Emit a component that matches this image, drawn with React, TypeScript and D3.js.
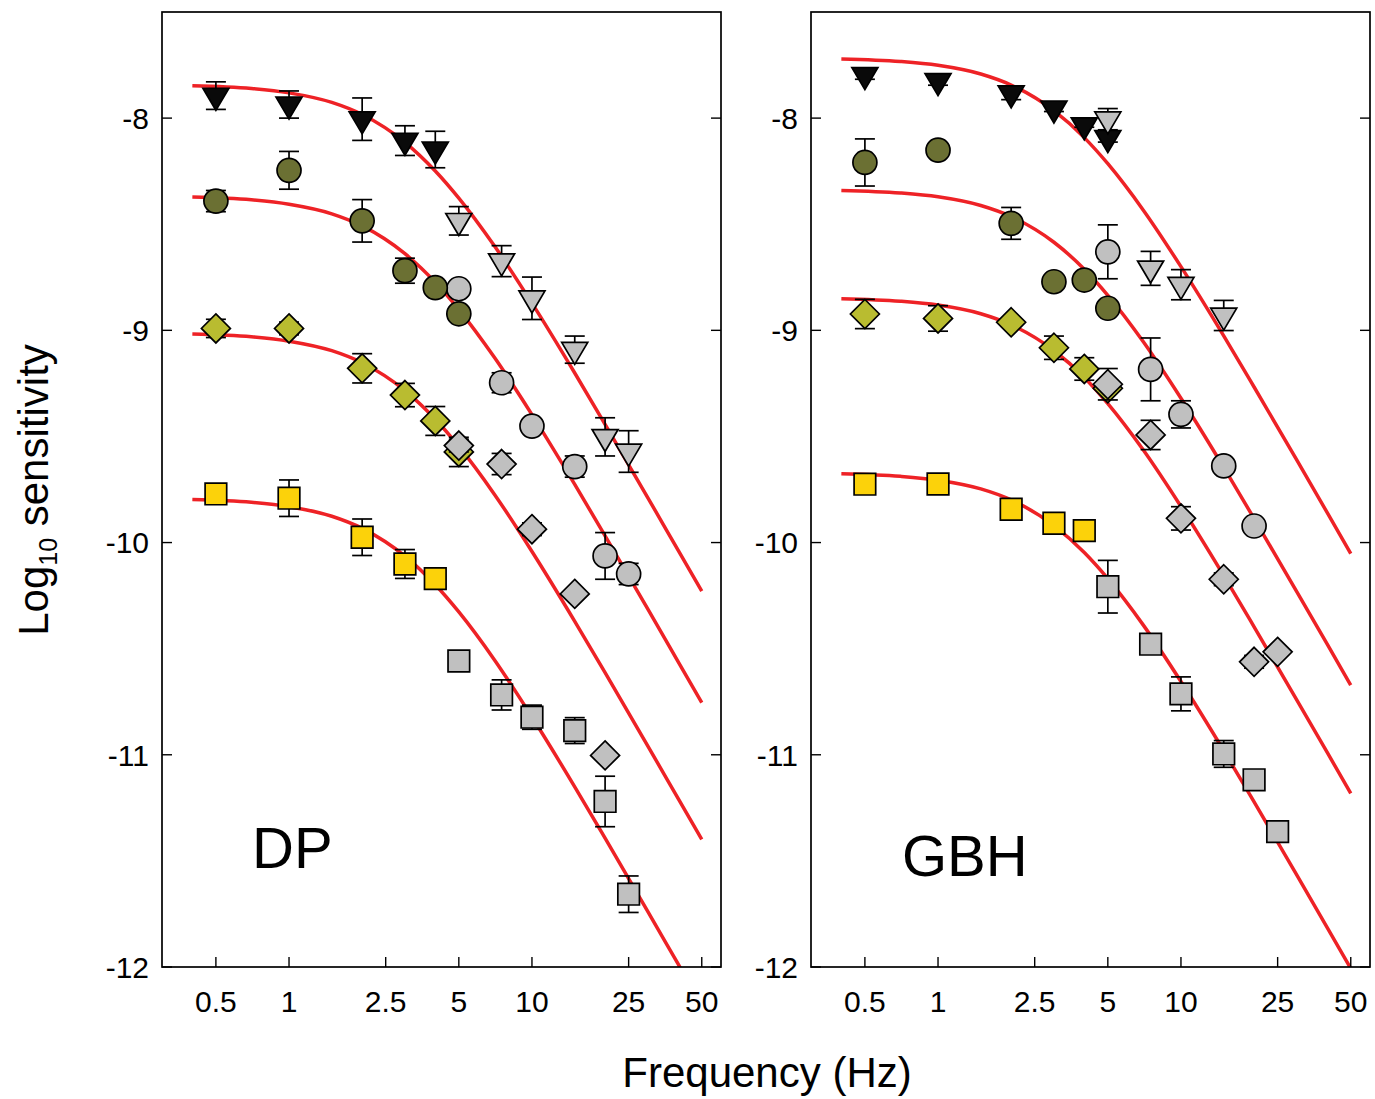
import React from "react";
import * as d3 from "d3";

// ---------- Fitted curves ----------
const curveF = [0.4, 0.7, 1, 1.5, 2, 3, 4, 5, 7, 10, 15, 20, 30, 40, 50];
const dpCurve1 = [-7.847, -7.86, -7.881, -7.926, -7.983, -8.114, -8.249, -8.377, -8.602, -8.872, -9.201, -9.443, -9.789, -10.037, -10.229];
const dpCurve2 = [-8.372, -8.385, -8.406, -8.451, -8.508, -8.639, -8.774, -8.902, -9.127, -9.397, -9.726, -9.968, -10.314, -10.562, -10.754];
const dpCurve3 = [-9.017, -9.03, -9.051, -9.096, -9.153, -9.284, -9.419, -9.547, -9.772, -10.042, -10.371, -10.613, -10.959, -11.207, -11.399];
const dpCurve4 = [-9.797, -9.81, -9.831, -9.876, -9.933, -10.064, -10.199, -10.327, -10.552, -10.822, -11.151, -11.393, -11.739, -11.987, -12.179];
const gbCurve1 = [-7.721, -7.733, -7.751, -7.792, -7.844, -7.965, -8.092, -8.215, -8.434, -8.7, -9.026, -9.267, -9.612, -9.859, -10.052];
const gbCurve2 = [-8.341, -8.353, -8.371, -8.412, -8.464, -8.585, -8.712, -8.835, -9.054, -9.32, -9.646, -9.887, -10.232, -10.479, -10.672];
const gbCurve3 = [-8.851, -8.863, -8.881, -8.922, -8.974, -9.095, -9.222, -9.345, -9.564, -9.83, -10.156, -10.397, -10.742, -10.989, -11.182];
const gbCurve4 = [-9.676, -9.688, -9.706, -9.747, -9.799, -9.92, -10.047, -10.17, -10.389, -10.655, -10.981, -11.222, -11.567, -11.814, -12.007];

// ---------- DP data ----------
const dpBlackTriF = [0.5, 1, 2, 3, 4];
const dpBlackTriY = [-7.894, -7.936, -8.005, -8.106, -8.148];
const dpBlackTriE = [0.065, 0.064, 0.1, 0.07, 0.086];
const dpGrayTriF = [5, 7.5, 10, 15, 20, 25];
const dpGrayTriY = [-8.484, -8.674, -8.849, -9.091, -9.502, -9.571];
const dpGrayTriE = [0.067, 0.073, 0.1, 0.064, 0.09, 0.098];
const dpOliveCircF = [0.5, 1, 2, 3, 4, 5];
const dpOliveCircY = [-8.391, -8.246, -8.484, -8.719, -8.799, -8.922];
const dpOliveCircE = [0.05, 0.089, 0.1, 0.059, 0.03, 0.03];
const dpGrayCircF = [5, 7.5, 10, 15, 20, 25];
const dpGrayCircY = [-8.804, -9.247, -9.451, -9.642, -10.063, -10.148];
const dpGrayCircE = [0.03, 0.047, 0.03, 0.05, 0.11, 0.05];
const dpYellowDiaF = [0.5, 1, 2, 3, 4, 5];
const dpYellowDiaY = [-8.991, -8.991, -9.179, -9.305, -9.427, -9.573];
const dpYellowDiaE = [0.043, 0.03, 0.069, 0.055, 0.068, 0.069];
const dpGrayDiaF = [5, 7.5, 10, 15, 20];
const dpGrayDiaY = [-9.543, -9.63, -9.937, -10.242, -11.003];
const dpGrayDiaE = [0.03, 0.05, 0.03, 0, 0];
const dpYellowSqF = [0.5, 1, 2, 3, 4];
const dpYellowSqY = [-9.771, -9.791, -9.975, -10.101, -10.17];
const dpYellowSqE = [0.035, 0.086, 0.086, 0.068, 0];
const dpGraySqF = [5, 7.5, 10, 15, 20, 25];
const dpGraySqY = [-10.558, -10.718, -10.823, -10.886, -11.22, -11.657];
const dpGraySqE = [0, 0.071, 0.057, 0.061, 0.119, 0.086];

// ---------- GBH data ----------
const gbBlackTriF = [0.5, 1, 2, 3, 4, 5];
const gbBlackTriY = [-7.797, -7.825, -7.883, -7.954, -8.033, -8.093];
const gbBlackTriE = [0.02, 0.02, 0.03, 0.015, 0.01, 0.02];
const gbGrayTriF = [5, 7.5, 10, 15];
const gbGrayTriY = [-8.005, -8.708, -8.785, -8.93];
const gbGrayTriE = [0.05, 0.08, 0.071, 0.071];
const gbOliveCircF = [0.5, 1, 2, 3, 4, 5];
const gbOliveCircY = [-8.209, -8.151, -8.496, -8.771, -8.763, -8.896];
const gbOliveCircE = [0.111, 0, 0.075, 0, 0, 0];
const gbGrayCircF = [5, 7.5, 10, 15, 20];
const gbGrayCircY = [-8.63, -9.184, -9.396, -9.639, -9.922];
const gbGrayCircE = [0.127, 0.148, 0.064, 0, 0.02];
const gbYellowDiaF = [0.5, 1, 2, 3, 4, 5];
const gbYellowDiaY = [-8.923, -8.944, -8.962, -9.082, -9.182, -9.273];
const gbYellowDiaE = [0.069, 0.06, 0, 0.055, 0.053, 0];
const gbGrayDiaF = [5, 7.5, 10, 15, 20, 25];
const gbGrayDiaY = [-9.254, -9.493, -9.886, -10.173, -10.562, -10.515];
const gbGrayDiaE = [0.074, 0.069, 0.055, 0.03, 0.03, 0];
const gbYellowSqF = [0.5, 1, 2, 3, 4];
const gbYellowSqY = [-9.725, -9.724, -9.843, -9.909, -9.944];
const gbYellowSqE = [0, 0, 0, 0, 0];
const gbGraySqF = [5, 7.5, 10, 15, 20, 25];
const gbGraySqY = [-10.208, -10.479, -10.713, -10.996, -11.118, -11.362];
const gbGraySqE = [0.124, 0, 0.08, 0.063, 0.02, 0];

// ---------- ticks ----------
const xTickVals = [0.5, 1, 2.5, 5, 10, 25, 50];
const xTickLabels = ["0.5", "1", "2.5", "5", "10", "25", "50"];
const yTickVals = [-8, -9, -10, -11, -12];
const yTickLabels = ["-8", "-9", "-10", "-11", "-12"];

const COL = {
  black: "#0a0a0a",
  gray: "#c0c0c0",
  olive: "#6b7033",
  lime: "#b9bc30",
  yellow: "#fcd20a",
  red: "#ee2226",
};

const FONT = "'Liberation Sans', Arial, Helvetica, sans-serif";

type Shape = "tri" | "circ" | "dia" | "sq";

function markerPath(shape: Shape, cx: number, cy: number): string {
  if (shape === "circ") {
    const r = 12;
    return `M${cx - r},${cy}a${r},${r} 0 1,0 ${2 * r},0a${r},${r} 0 1,0 ${-2 * r},0Z`;
  }
  if (shape === "sq") {
    const h = 10.8;
    return `M${cx - h},${cy - h}H${cx + h}V${cy + h}H${cx - h}Z`;
  }
  if (shape === "dia") {
    const h = 14.5;
    return `M${cx},${cy - h}L${cx + h},${cy}L${cx},${cy + h}L${cx - h},${cy}Z`;
  }
  const w = 13, hh = 22;
  return `M${cx - w},${cy - hh / 3}H${cx + w}L${cx},${cy + (2 * hh) / 3}Z`;
}

function Series({ f, y, e, shape, fill, xs, ys }: any) {
  return (
    <g>
      {f.map((fv: number, i: number) => {
        if (!e[i]) return null;
        const cx = xs(fv);
        const y1 = ys(y[i] + e[i]);
        const y2 = ys(y[i] - e[i]);
        return (
          <g key={"e" + i} stroke="#000" strokeWidth={1.7} fill="none">
            <line x1={cx} x2={cx} y1={y1} y2={y2} />
            <line x1={cx - 10} x2={cx + 10} y1={y1} y2={y1} />
            <line x1={cx - 10} x2={cx + 10} y1={y2} y2={y2} />
          </g>
        );
      })}
      {f.map((fv: number, i: number) => (
        <path
          key={"m" + i}
          d={markerPath(shape, xs(fv), ys(y[i]))}
          fill={fill}
          stroke="#000"
          strokeWidth={1.7}
          strokeLinejoin="miter"
        />
      ))}
    </g>
  );
}

function Panel({ x0, x1, label, labelX, labelY, curves, series, clipId, tickLabelX }: any) {
  const top = 12, bottom = 967;
  const xs = d3.scaleLog().domain([0.3, 60]).range([x0, x1]);
  const ys = d3.scaleLinear().domain([-12, -7.5]).range([bottom, top]);
  const line = d3
    .line<[number, number]>()
    .x((d) => xs(d[0]))
    .y((d) => ys(d[1]))
    .curve(d3.curveMonotoneX);
  return (
    <g>
      <defs>
        <clipPath id={clipId}>
          <rect x={x0} y={top} width={x1 - x0} height={bottom - top} />
        </clipPath>
      </defs>
      <g clipPath={`url(#${clipId})`}>
        {curves.map((c: number[], i: number) => (
          <path
            key={i}
            d={line(curveF.map((fv, j) => [fv, c[j]]) as any) || ""}
            fill="none"
            stroke={COL.red}
            strokeWidth={3.5}
          />
        ))}
      </g>
      {series.map((s: any, i: number) => (
        <Series key={i} {...s} xs={xs} ys={ys} />
      ))}
      {/* frame */}
      <rect x={x0} y={top} width={x1 - x0} height={bottom - top} fill="none" stroke="#000" strokeWidth={1.7} />
      {xTickVals.map((t, i) => (
        <g key={"xt" + i}>
          <line x1={xs(t)} x2={xs(t)} y1={bottom} y2={bottom - 10} stroke="#000" strokeWidth={1.4} />
          <text x={xs(t)} y={1012} textAnchor="middle" fontFamily={FONT} fontSize={30} fill="#000">
            {xTickLabels[i]}
          </text>
        </g>
      ))}
      {yTickVals.map((t, i) => (
        <g key={"yt" + i}>
          <line x1={x0} x2={x0 + 10} y1={ys(t)} y2={ys(t)} stroke="#000" strokeWidth={1.4} />
          <line x1={x1} x2={x1 - 10} y1={ys(t)} y2={ys(t)} stroke="#000" strokeWidth={1.4} />
          <text x={tickLabelX} y={ys(t)} dy="0.36em" textAnchor="end" fontFamily={FONT} fontSize={30} fill="#000">
            {yTickLabels[i]}
          </text>
        </g>
      ))}
      <text x={labelX} y={labelY} fontFamily={FONT} fontSize={58} fill="#000">
        {label}
      </text>
    </g>
  );
}

export default function App() {
  const dpSeries = [
    { f: dpYellowSqF, y: dpYellowSqY, e: dpYellowSqE, shape: "sq", fill: COL.yellow },
    { f: dpGraySqF, y: dpGraySqY, e: dpGraySqE, shape: "sq", fill: COL.gray },
    { f: dpYellowDiaF, y: dpYellowDiaY, e: dpYellowDiaE, shape: "dia", fill: COL.lime },
    { f: dpGrayDiaF, y: dpGrayDiaY, e: dpGrayDiaE, shape: "dia", fill: COL.gray },
    { f: dpGrayCircF, y: dpGrayCircY, e: dpGrayCircE, shape: "circ", fill: COL.gray },
    { f: dpOliveCircF, y: dpOliveCircY, e: dpOliveCircE, shape: "circ", fill: COL.olive },
    { f: dpGrayTriF, y: dpGrayTriY, e: dpGrayTriE, shape: "tri", fill: COL.gray },
    { f: dpBlackTriF, y: dpBlackTriY, e: dpBlackTriE, shape: "tri", fill: COL.black },
  ];
  const gbSeries = [
    { f: gbYellowSqF, y: gbYellowSqY, e: gbYellowSqE, shape: "sq", fill: COL.yellow },
    { f: gbGraySqF, y: gbGraySqY, e: gbGraySqE, shape: "sq", fill: COL.gray },
    { f: gbYellowDiaF, y: gbYellowDiaY, e: gbYellowDiaE, shape: "dia", fill: COL.lime },
    { f: gbGrayDiaF, y: gbGrayDiaY, e: gbGrayDiaE, shape: "dia", fill: COL.gray },
    { f: gbGrayCircF, y: gbGrayCircY, e: gbGrayCircE, shape: "circ", fill: COL.gray },
    { f: gbOliveCircF, y: gbOliveCircY, e: gbOliveCircE, shape: "circ", fill: COL.olive },
    { f: gbBlackTriF, y: gbBlackTriY, e: gbBlackTriE, shape: "tri", fill: COL.black },
    { f: gbGrayTriF, y: gbGrayTriY, e: gbGrayTriE, shape: "tri", fill: COL.gray },
  ];
  return (
    <svg
      width={1375}
      height={1099}
      viewBox="0 0 1375 1099"
      style={{ position: "absolute", left: 0, top: 0, background: "#fff" }}
    >
      <rect x={0} y={0} width={1375} height={1099} fill="#fff" />
      <Panel
        x0={162}
        x1={721}
        label="DP"
        labelX={252}
        labelY={868}
        curves={[dpCurve1, dpCurve2, dpCurve3, dpCurve4]}
        series={dpSeries}
        clipId="clipDP"
        tickLabelX={149}
      />
      <Panel
        x0={811}
        x1={1370}
        label="GBH"
        labelX={902}
        labelY={876}
        curves={[gbCurve1, gbCurve2, gbCurve3, gbCurve4]}
        series={gbSeries}
        clipId="clipGBH"
        tickLabelX={798}
      />
      <text x={767} y={1087} textAnchor="middle" fontFamily={FONT} fontSize={42} fill="#000">
        Frequency (Hz)
      </text>
      <text transform="translate(48,490) rotate(-90)" textAnchor="middle" fontFamily={FONT} fontSize={42} fill="#000">
        Log
        <tspan fontSize={25} dy={9}>10</tspan>
        <tspan dy={-9}> sensitivity</tspan>
      </text>
    </svg>
  );
}
